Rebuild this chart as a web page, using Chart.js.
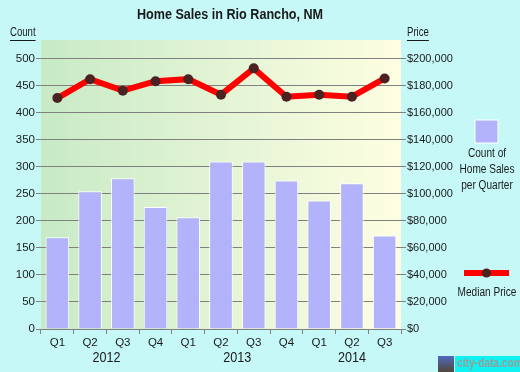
<!DOCTYPE html>
<html>
<head>
<meta charset="utf-8">
<script src="https://cdn.jsdelivr.net/npm/chart.js@4/dist/chart.umd.min.js"></script>
<style>
html,body{margin:0;padding:0;background:#c6f8f8;}
canvas{display:block;}
</style>
</head>
<body>
<canvas id="c" width="520" height="372"></canvas>
<script>
const quarters = ['Q1','Q2','Q3','Q4','Q1','Q2','Q3','Q4','Q1','Q2','Q3'];
const years = ['2012','2013','2014'];
const yearSpans = [[0,3],[4,7],[8,10]];
const salesCount = [170, 255, 279, 226, 207, 310, 310, 275, 238, 270, 173];
const medianPrice = [171000, 185000, 176500, 183500, 185000, 173500, 193000, 172000, 173500, 172000, 185500];
const countTicks = [0,50,100,150,200,250,300,350,400,450,500];
const priceTicks = [0,20000,40000,60000,80000,100000,120000,140000,160000,180000,200000];

const FONT = '"Liberation Sans", Arial, sans-serif';
const TXT = '#1a1a1a';

function narrowText(ctx, t, x, y, align, sx) {
  ctx.save();
  ctx.translate(x, y);
  ctx.scale(sx, 1);
  ctx.textAlign = align;
  ctx.fillText(t, 0, 0);
  const w = ctx.measureText(t).width * sx;
  ctx.restore();
  return w;
}

const bgPlugin = {
  id: 'bg',
  beforeDraw(chart) {
    const {ctx, chartArea: a} = chart;
    ctx.save();
    ctx.fillStyle = '#c6f8f8';
    ctx.fillRect(0, 0, chart.width, chart.height);
    const g = ctx.createLinearGradient(a.left, 0, a.right, 0);
    g.addColorStop(0, '#c8eac6');
    g.addColorStop(1, '#fefee2');
    ctx.fillStyle = g;
    ctx.fillRect(a.left, a.top, a.right - a.left, a.bottom - a.top);
    ctx.restore();
  },
  afterDraw(chart) {
    const {ctx} = chart;
    const xs = chart.scales.x;
    ctx.save();
    ctx.fillStyle = TXT;
    ctx.textBaseline = 'middle';
    ctx.font = 'bold 15px ' + FONT;
    narrowText(ctx, 'Home Sales in Rio Rancho, NM', 230, 15, 'center', 0.84);
    ctx.font = '12px ' + FONT;
    let w = narrowText(ctx, 'Count', 10, 33, 'left', 0.8);
    ctx.fillRect(10, 40, w, 1);
    w = narrowText(ctx, 'Price', 407, 33, 'left', 0.8);
    ctx.fillRect(407, 40, w, 1);
    ctx.font = '14px ' + FONT;
    years.forEach((y, i) => {
      const [s, e] = yearSpans[i];
      const cx = (xs.getPixelForValue(s) + xs.getPixelForValue(e)) / 2;
      narrowText(ctx, y, cx, 358, 'center', 0.9);
    });
    ctx.fillStyle = '#b3b3fb';
    ctx.fillRect(475, 120, 23, 23);
    ctx.strokeStyle = '#ffffff';
    ctx.lineWidth = 1;
    ctx.strokeRect(475, 120, 23, 23);
    ctx.fillStyle = TXT;
    ctx.font = '12px ' + FONT;
    narrowText(ctx, 'Count of', 487, 154, 'center', 0.84);
    narrowText(ctx, 'Home Sales', 487, 170, 'center', 0.84);
    narrowText(ctx, 'per Quarter', 487, 186, 'center', 0.84);
    ctx.fillStyle = '#ff0000';
    ctx.fillRect(464, 270, 45, 6);
    ctx.fillStyle = '#4a2222';
    ctx.beginPath();
    ctx.arc(486.5, 273, 4.5, 0, Math.PI * 2);
    ctx.fill();
    ctx.fillStyle = TXT;
    narrowText(ctx, 'Median Price', 487, 293, 'center', 0.84);
    // watermark
    const ig = ctx.createLinearGradient(0, 356, 0, 372);
    ig.addColorStop(0, '#5068c0');
    ig.addColorStop(1, '#504838');
    ctx.fillStyle = ig;
    ctx.fillRect(438, 356, 16, 16);
    ctx.fillStyle = '#10f2f2';
    ctx.fillRect(455, 356, 65, 16);
    ctx.font = 'bold 12px ' + FONT;
    ctx.fillStyle = '#9a9a9a';
    narrowText(ctx, 'city-data.com', 457, 364, 'left', 0.85);
    ctx.restore();
  }
};

function keepTicks(list) {
  return function(scale) {
    scale.ticks = list.map(v => ({value: v}));
  };
}

new Chart(document.getElementById('c'), {
  data: {
    labels: quarters,
    datasets: [
      {
        type: 'line',
        label: 'Median Price',
        data: medianPrice,
        yAxisID: 'y2',
        borderColor: '#ff0000',
        borderWidth: 6,
        pointBackgroundColor: '#4a2222',
        pointBorderColor: '#4a2222',
        pointRadius: 5,
        pointBorderWidth: 0,
        tension: 0,
        order: 0
      },
      {
        type: 'bar',
        label: 'Count of Home Sales per Quarter',
        data: salesCount,
        yAxisID: 'y',
        backgroundColor: '#b3b3fb',
        borderColor: '#ffffff',
        borderWidth: 1,
        barPercentage: 0.72,
        categoryPercentage: 1,
        order: 1
      }
    ]
  },
  options: {
    responsive: false,
    animation: false,
    layout: {padding: {top: 40, left: 0, right: 0, bottom: 0}},
    plugins: {legend: {display: false}, tooltip: {enabled: false}, title: {display: false}},
    scales: {
      x: {
        type: 'category',
        offset: true,
        grid: {display: true, drawOnChartArea: false, drawTicks: true, tickLength: 5, color: '#808080', offset: true},
        border: {display: true, color: '#808080'},
        ticks: {color: TXT, font: {family: FONT, size: 11.5}, padding: 2, maxRotation: 0},
        afterFit(s) { s.height = 43; }
      },
      y: {
        position: 'left',
        min: 0, max: 535,
        afterBuildTicks: keepTicks(countTicks),
        grid: {color: '#808080', lineWidth: 1, tickLength: 5, drawTicks: true},
        border: {display: false},
        ticks: {color: TXT, font: {family: FONT, size: 11.5}, padding: 1},
        afterFit(s) { s.width = 41; }
      },
      y2: {
        position: 'right',
        min: 0, max: 214000,
        afterBuildTicks: keepTicks(priceTicks),
        grid: {drawOnChartArea: false, color: '#808080', tickLength: 5, drawTicks: true},
        border: {display: false},
        ticks: {color: TXT, font: {family: FONT, size: 11}, padding: 1,
          callback: v => '$' + v.toLocaleString('en-US')},
        afterFit(s) { s.width = 119; }
      }
    }
  },
  plugins: [bgPlugin]
});
</script>
</body>
</html>
